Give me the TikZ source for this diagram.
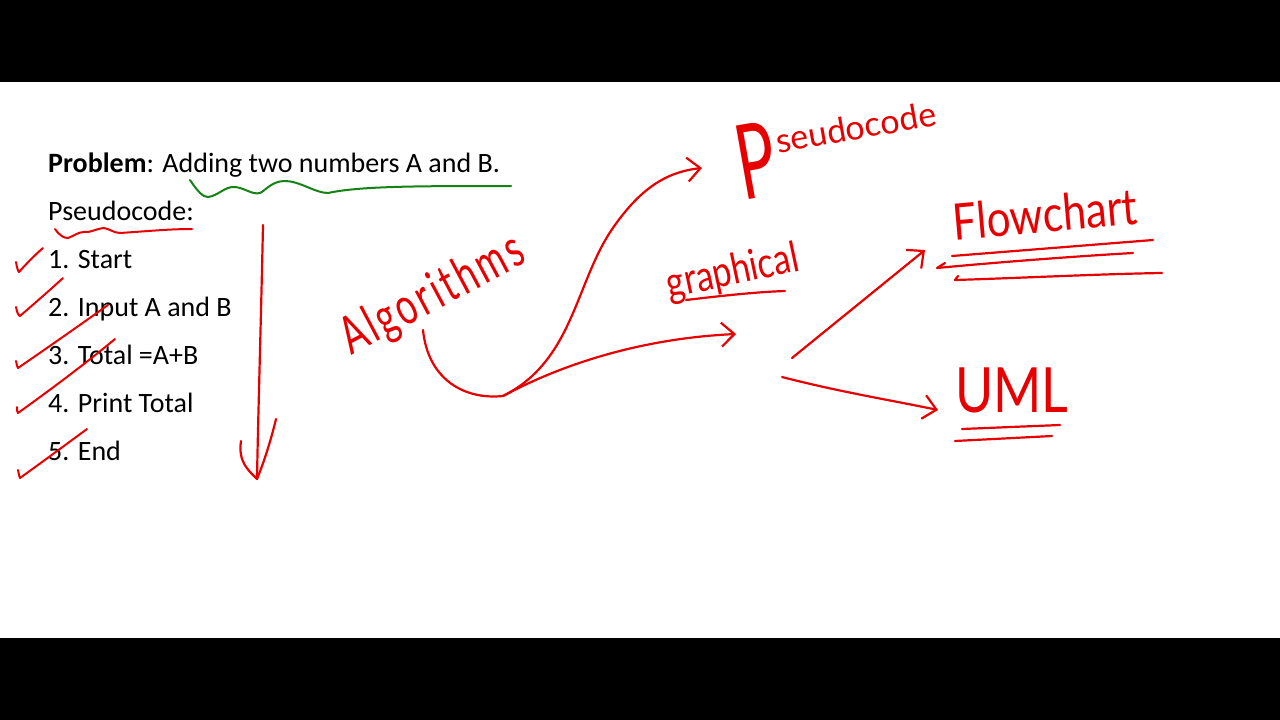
\documentclass[tikz,border=0pt]{standalone}
\usepackage{fontspec}
\setmainfont{Carlito}
\newfontfamily\handfont{Lato}
\newfontfamily\handwide{Lato}[LetterSpace=9]
\usetikzlibrary{arrows.meta}
\definecolor{inkred}{RGB}{232,0,0}
\definecolor{inkgreen}{RGB}{20,130,20}
\begin{document}
\begin{tikzpicture}[x=1pt,y=-1pt,
  hand/.style={draw=inkred,line width=2.2pt,line cap=round,line join=round},
  handtip/.style={-{Straight Barb[length=13pt,width=24pt,line width=2.2pt]}},
  slide/.style={anchor=base west,inner sep=0pt,font=\fontsize{28}{31}\selectfont},
  word/.style={inner sep=0pt,text=inkred,font=\handfont\fontsize{#1}{#1}\selectfont},
  tick/.style={hand,line width=2pt}]
\useasboundingbox (0,0) rectangle (1280,720);
\fill[black] (0,0) rectangle (1280,720);
\fill[white] (0,82) rectangle (1280,638);

% typed slide text
\node[slide] (prob) at (48,172) {\textbf{Problem}: Adding two numbers A and B.};
\node[slide] (pcode) at (48,220) {Pseudocode:};
\node[slide] (s1) at (48,268) {1. Start};
\node[slide] (s2) at (48,316) {2. Input A and B};
\node[slide] (s3) at (48,364) {3. Total =A+B};
\node[slide] (s4) at (48,412) {4. Print Total};
\node[slide] (s5) at (48,460) {5. End};

% underlines
\draw[draw=inkgreen,line width=2pt,line cap=round] (190,180) .. controls (198,192) and (203,197) .. (208,197)
  .. controls (218,196) and (225,186) .. (235,187) .. controls (245,188) and (252,195) .. (260,193)
  .. controls (266,190) and (272,181) .. (285,181) .. controls (300,181) and (315,193) .. (328,193)
  .. controls (360,186) and (420,186) .. (511,186);
\draw[hand,line width=2pt] (55,229) .. controls (60,236) and (64,238) .. (68,238)
  .. controls (74,236) and (78,232) .. (84,232) .. controls (90,233) and (95,229) .. (104,228)
  .. controls (110,229) and (114,233) .. (120,233) .. controls (150,231) and (170,229) .. (192,229);

% check marks
\draw[tick] (16,262) .. controls (17,268) and (18,271) .. (19,272) .. controls (28,262) and (35,255) .. (43,248);
\draw[tick] (16,307) .. controls (17,312) and (18,315) .. (20,316) .. controls (35,303) and (50,290) .. (63,278);
\draw[tick] (16,361) .. controls (17,365) and (17,367) .. (18,368) .. controls (50,346) and (80,325) .. (108,305);
\draw[tick] (17,407) .. controls (17,410) and (17,412) .. (18,413) .. controls (50,390) and (85,364) .. (115,339);
\draw[tick] (18,470) .. controls (19,474) and (19,477) .. (20,478) .. controls (45,460) and (68,443) .. (87,429);

% vertical arrow
\coordinate (vtop) at (263,225);
\coordinate (vbot) at (257,479);
\draw[hand] (vtop) .. controls (261,320) and (258,420) .. (vbot);
\draw[hand] (241,441) .. controls (238,462) and (248,470) .. (vbot);
\draw[hand] (276,419) .. controls (271,440) and (264,462) .. (vbot);

% handwritten words
\node[inner sep=0pt,text=inkred,font=\handwide\fontsize{36}{36}\selectfont,rotate=28,yscale=1.45] (alg) at (433,296) {Algorithms};
\node[word=34,rotate=10,anchor=base west] (pseudo) at (736,161)
  {\raisebox{-40pt}{\scalebox{0.62}[1]{\fontsize{104}{104}\selectfont P}}\hspace{4pt}seudocode};
\node[word=34,rotate=12,yscale=1.25] (graph) at (733,273) {graphical};
\node[word=42,rotate=5,yscale=1.2] (flow) at (1045,214) {Flowchart};
\node[word=52,yscale=1.2] (uml) at (1012,390) {UML};

% underlines of handwritten words
\draw[hand] (686,300) .. controls (720,296) and (755,292) .. (785,291);
\draw[hand] (952,256) -- (1153,240);
\draw[hand] (945,263) -- (937,268) .. controls (1000,262) and (1080,256) .. (1133,253);
\draw[hand] (958,276) -- (955,280) .. controls (1020,278) and (1100,274) .. (1162,273);
\draw[hand] (962,429) -- (1060,425);
\draw[hand] (955,441) -- (1052,436);

% connectors
\coordinate (algout) at (423,330);
\coordinate (split) at (503,396);
\coordinate (pseudoin) at (702,168);
\coordinate (graphin) at (736,334);
\coordinate (graphout1) at (792,358);
\coordinate (graphout2) at (782,377);
\coordinate (flowin) at (925,250);
\coordinate (umlin) at (938,410);
\draw[hand] (algout) .. controls (428,380) and (465,400) .. (split);
\draw[hand,handtip] (split) .. controls (575,360) and (575,280) .. (615,225)
  .. controls (640,190) and (665,172) .. (pseudoin);
\draw[hand,handtip] (split) .. controls (570,360) and (650,338) .. (graphin);
\draw[hand,handtip] (graphout1) -- (flowin);
\draw[hand,handtip] (graphout2) .. controls (840,392) and (890,400) .. (umlin);
\end{tikzpicture}
\end{document}
